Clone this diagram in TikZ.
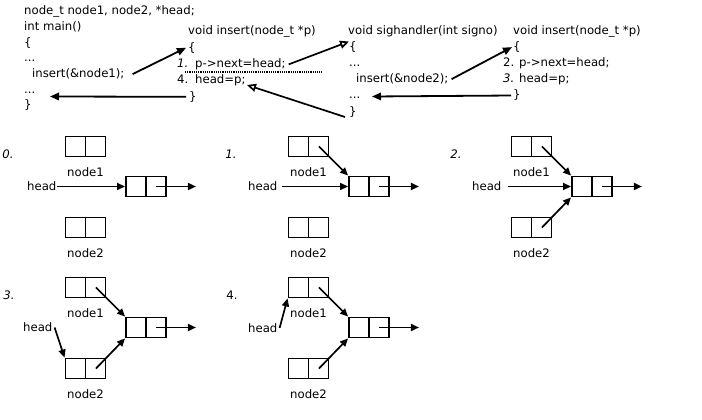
\documentclass[tikz,border=0pt]{standalone}
\usepackage{fontspec}
\setmainfont{DejaVu Sans}
\usetikzlibrary{arrows.meta,calc}
\newcommand\qpanel[3]{%
 \begin{scope}[shift={(#2,#3)}]
   \node[lbox] (na#1) at (85.5,146.5) {};
   \draw[boxline] (na#1.north) -- (na#1.south);
   \coordinate (na#1r) at ($(na#1.center)!0.5!(na#1.east)$);
   \node[lbox] (nb#1) at (85.5,227.5) {};
   \draw[boxline] (nb#1.north) -- (nb#1.south);
   \coordinate (nb#1r) at ($(nb#1.center)!0.5!(nb#1.east)$);
   \node[lbox] (m#1) at (146,186.5) {};
   \draw[boxline] (m#1.north) -- (m#1.south);
   \coordinate (m#1r) at ($(m#1.center)!0.5!(m#1.east)$);
   \node[lbl] (la#1) at (85.5,172) {node1};
   \node[lbl] (lb#1) at (85.5,253) {node2};
   \coordinate (o#1) at ([xshift=29pt]m#1.east);
   \draw[pa] (m#1r) -- (o#1);
 \end{scope}}
\begin{document}
\begin{tikzpicture}[x=1pt,y=-1pt,
  code/.style={anchor=base west, inner sep=0pt, font=\fontsize{11.7}{14}\selectfont},
  lbl/.style={inner sep=0pt, font=\fontsize{11.7}{14}\selectfont},
  fa/.style={-{Triangle[length=9pt,width=7.5pt]}, line width=1.8pt},
  oa/.style={-{Triangle[open,length=9pt,width=8pt]}, line width=1.7pt},
  boxline/.style={line width=1.9pt},
  lbox/.style={draw, line width=1.9pt, minimum width=40pt, minimum height=20pt, inner sep=0pt},
  pa/.style={-{Triangle[length=8pt,width=7pt]}, line width=1.7pt},
]
\useasboundingbox (0,0) rectangle (702,420);
% block 1
\node[code] (c1a) at (24,15) {node\_t node1, node2, *head;};
\node[code] (c1b) at (24,30.7) {int main()};
\node[code] (c1c) at (24,46.4) {\{};
\node[code] (c1d) at (24,62) {...};
\node[code] (ins1) at (32,77.8) {insert(\&node1);};
\node[code] (dots1b) at (24,93.5) {...};
\node[code] (c1g) at (24,109) {\}};
% block 2
\node[code] (c2a) at (188,35) {void insert(node\_t *p)};
\node[code] (b2open) at (188,51.3) {\{};
\node[code] (n2a) at (177,67.6) {\textit{1.}};
\node[code] (p1) at (195,67.6) {p->next=head;};
\node[code] (n2b) at (177,84) {4.};
\node[code] (hd1) at (195,84) {head=p;};
\node[code] (b2close) at (189,100.3) {\}};
% block 3
\node[code] (c3a) at (348,34.5) {void sighandler(int signo)};
\node[code] (b3open) at (349,50.6) {\{};
\node[code] (c3c) at (349,66.7) {...};
\node[code] (ins2) at (356,82.8) {insert(\&node2);};
\node[code] (dots3b) at (349,99) {...};
\node[code] (b3close) at (349,115) {\}};
% block 4
\node[code] (c4a) at (513,34.5) {void insert(node\_t *p)};
\node[code] (b4open) at (513,50.6) {\{};
\node[code] (n4a) at (503,66.7) {2.};
\node[code] (p2) at (519,66.7) {p->next=head;};
\node[code] (n4b) at (503,82.8) {\textit{3.}};
\node[code] (hd2) at (519,82.8) {head=p;};
\node[code] (b4close) at (513,99) {\}};
% dotted line
\coordinate (dl1) at (185,72);
\coordinate (dl2) at (322,72);
\draw[line width=1.3pt, dash pattern=on 1.1pt off 1.1pt] (dl1) -- (dl2);
% top arrows
\coordinate (a1s) at ([xshift=8pt]ins1.east);
\draw[fa] (a1s) -- ([xshift=-2pt]b2open.west);
\coordinate (a2e) at (50,96.5);
\draw[fa] ([xshift=-3pt]b2close.west) -- (a2e);
\coordinate (a3s) at ([xshift=3pt]p1.east);
\draw[oa] (a3s) -- (b3open.north west);
\coordinate (a4s) at (345,117);
\coordinate (a4e) at (247,85);
\draw[oa] (a4s) -- (a4e);
\coordinate (a5s) at ([xshift=3pt]ins2.east);
\draw[fa] (a5s) -- ([xshift=-1pt]b4open.west);
\coordinate (a6e) at (372,96.5);
\draw[fa] ([xshift=-2pt]b4close.west) -- (a6e);
% panels
\qpanel{0}{0}{0}
\qpanel{1}{223}{0}
\qpanel{2}{446}{0}
\qpanel{3}{0}{141}
\qpanel{4}{223}{141}
\node[lbl] (k0) at (8,154) {\textit{0.}};
\node[lbl] (k1) at (231,154) {\textit{1.}};
\node[lbl] (k2) at (456,154) {\textit{2.}};
\node[lbl] (k3) at (9,295) {\textit{3.}};
\node[lbl] (k4) at (232,295) {4.};
% panel 0
\node[lbl, anchor=west] (h0) at (27,186.5) {head};
\draw[pa] (h0.east) -- (m0.west);
% panel 1
\node[lbl, anchor=west] (h1) at (248,186.5) {head};
\draw[pa] ([xshift=4pt]h1.east) -- (m1.west);
\draw[pa] (na1r) -- (m1.north west);
% panel 2
\node[lbl, anchor=west] (h2) at (472,186.5) {head};
\draw[pa] ([xshift=6pt]h2.east) -- (m2.west);
\draw[pa] (na2r) -- (m2.north west);
\draw[pa] (nb2r) -- (m2.south west);
% panel 3
\node[lbl, anchor=west] (h3) at (23,327.5) {head};
\draw[pa] ([xshift=2pt]h3.east) -- (nb3.north west);
\draw[pa] (na3r) -- (m3.north west);
\draw[pa] (nb3r) -- (m3.south west);
% panel 4
\node[lbl, anchor=west] (h4) at (248,328) {head};
\draw[pa] ([xshift=2pt]h4.east) -- (na4.south west);
\draw[pa] (na4r) -- (m4.north west);
\draw[pa] (nb4r) -- (m4.south west);
\end{tikzpicture}
\end{document}
